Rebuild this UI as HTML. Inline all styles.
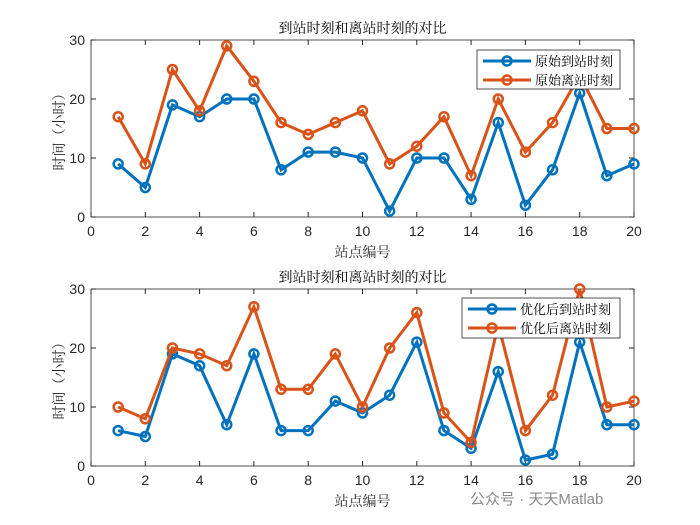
<!DOCTYPE html>
<html><head><meta charset="utf-8"><style>
body{margin:0;background:#fff}
svg{display:block;font-family:"Liberation Serif","Noto Serif CJK SC","Noto Sans CJK SC",serif}
.tk{font-family:"Liberation Sans",sans-serif}
</style></head><body>
<svg id="c" width="700" height="525"></svg>
<script>
const stations=[1,2,3,4,5,6,7,8,9,10,11,12,13,14,15,16,17,18,19,20];
const xTicks=[0,2,4,6,8,10,12,14,16,18,20];
const yTicks=[0,10,20,30];
const origArrive=[9,5,19,17,20,20,8,11,11,10,1,10,10,3,16,2,8,21,7,9];
const origDepart=[17,9,25,18,29,23,16,14,16,18,9,12,17,7,20,11,16,24,15,15];
const optArrive=[6,5,19,17,7,19,6,6,11,9,12,21,6,3,16,1,2,21,7,7];
const optDepart=[10,8,20,19,17,27,13,13,19,10,20,26,9,4,24,6,12,30,10,11];
const NS="http://www.w3.org/2000/svg";
const svg=document.getElementById('c');
function el(t,a,p){const e=document.createElementNS(NS,t);for(const k in a)e.setAttribute(k,a[k]);(p||svg).appendChild(e);return e;}
function panel(top,bottom,title,a,d,names,lg,pn){
  const L=91,R=634;
  const g=el('g',{});
  
  
  const X=v=>L+(v-0)/20*(R-L), Y=v=>bottom-(v/30)*(bottom-top);
  el('rect',{x:L,y:top,width:R-L,height:bottom-top,fill:'#fff',stroke:'#262626','stroke-width':0.8},g);
  xTicks.forEach(t=>{el('line',{x1:X(t),x2:X(t),y1:bottom,y2:bottom-5,stroke:'#262626'},g);el('line',{x1:X(t),x2:X(t),y1:top,y2:top+5,stroke:'#262626'},g);
    const tx=el('text',{x:X(t),y:bottom+19,'text-anchor':'middle','font-size':14,fill:'#262626',class:'tk'},g);tx.textContent=t;
    });
  yTicks.forEach(t=>{el('line',{x1:L,x2:L+5,y1:Y(t),y2:Y(t),stroke:'#262626'},g);el('line',{x1:R,x2:R-5,y1:Y(t),y2:Y(t),stroke:'#262626'},g);
    const tx=el('text',{x:L-6,y:Y(t)+5,'text-anchor':'end','font-size':14,fill:'#262626',class:'tk'},g);tx.textContent=t;
    });
  const tt=el('text',{x:(L+R)/2,y:top-7,'text-anchor':'middle','font-size':14,fill:'#000'},g);tt.textContent=title;
  
  const xl=el('text',{x:(L+R)/2,y:bottom+40,'text-anchor':'middle','font-size':14,fill:'#262626'},g);xl.textContent='站点编号';
  
  const yl=el('text',{x:0,y:0,'text-anchor':'middle','font-size':14,fill:'#262626',transform:`translate(64,${(top+bottom)/2}) rotate(-90)`},g);yl.textContent='时间（小时）';
  
  [[a,'#0072BD','arrive'],[d,'#D95319','depart']].forEach(([s,c,n])=>{
    const pl=el('polyline',{points:s.map((v,i)=>X(stations[i])+','+Y(v)).join(' '),fill:'none',stroke:c,'stroke-width':3},g);
    
    s.forEach((v,i)=>{const m=el('circle',{cx:X(stations[i]),cy:Y(v),r:4.5,fill:'none',stroke:c,'stroke-width':2.5},g);
      });
  });
  const lgG=el('g',{},g);
  
  el('rect',{x:lg[0],y:lg[1],width:R-14-lg[0],height:lg[2],fill:'#fff',stroke:'#262626','stroke-width':0.8},lgG);
  [['#0072BD',names[0]],['#D95319',names[1]]].forEach(([c,n],i)=>{
    const yy=lg[1]+11+i*19;
    el('line',{x1:lg[0]+6,x2:lg[0]+54,y1:yy,y2:yy,stroke:c,'stroke-width':3},lgG);
    el('circle',{cx:lg[0]+30,cy:yy,r:4.5,fill:'none',stroke:c,'stroke-width':2.5},lgG);
    const t=el('text',{x:lg[0]+58,y:yy+5,'font-size':13,fill:'#000'},lgG);t.textContent=n;
    
  });
}
panel(40,217,'到站时刻和离站时刻的对比',origArrive,origDepart,['原始到站时刻','原始离站时刻'],[477,50,39],'top');
panel(289,466,'到站时刻和离站时刻的对比',optArrive,optDepart,['优化后到站时刻','优化后离站时刻'],[462,298,40],'bottom');
const wm=el('text',{x:470,y:504,'font-size':15,fill:'#8a8a8a',"font-family":"Liberation Sans,Noto Sans CJK SC,sans-serif"});
wm.textContent='公众号 · 天天Matlab';

</script>
</body></html>
